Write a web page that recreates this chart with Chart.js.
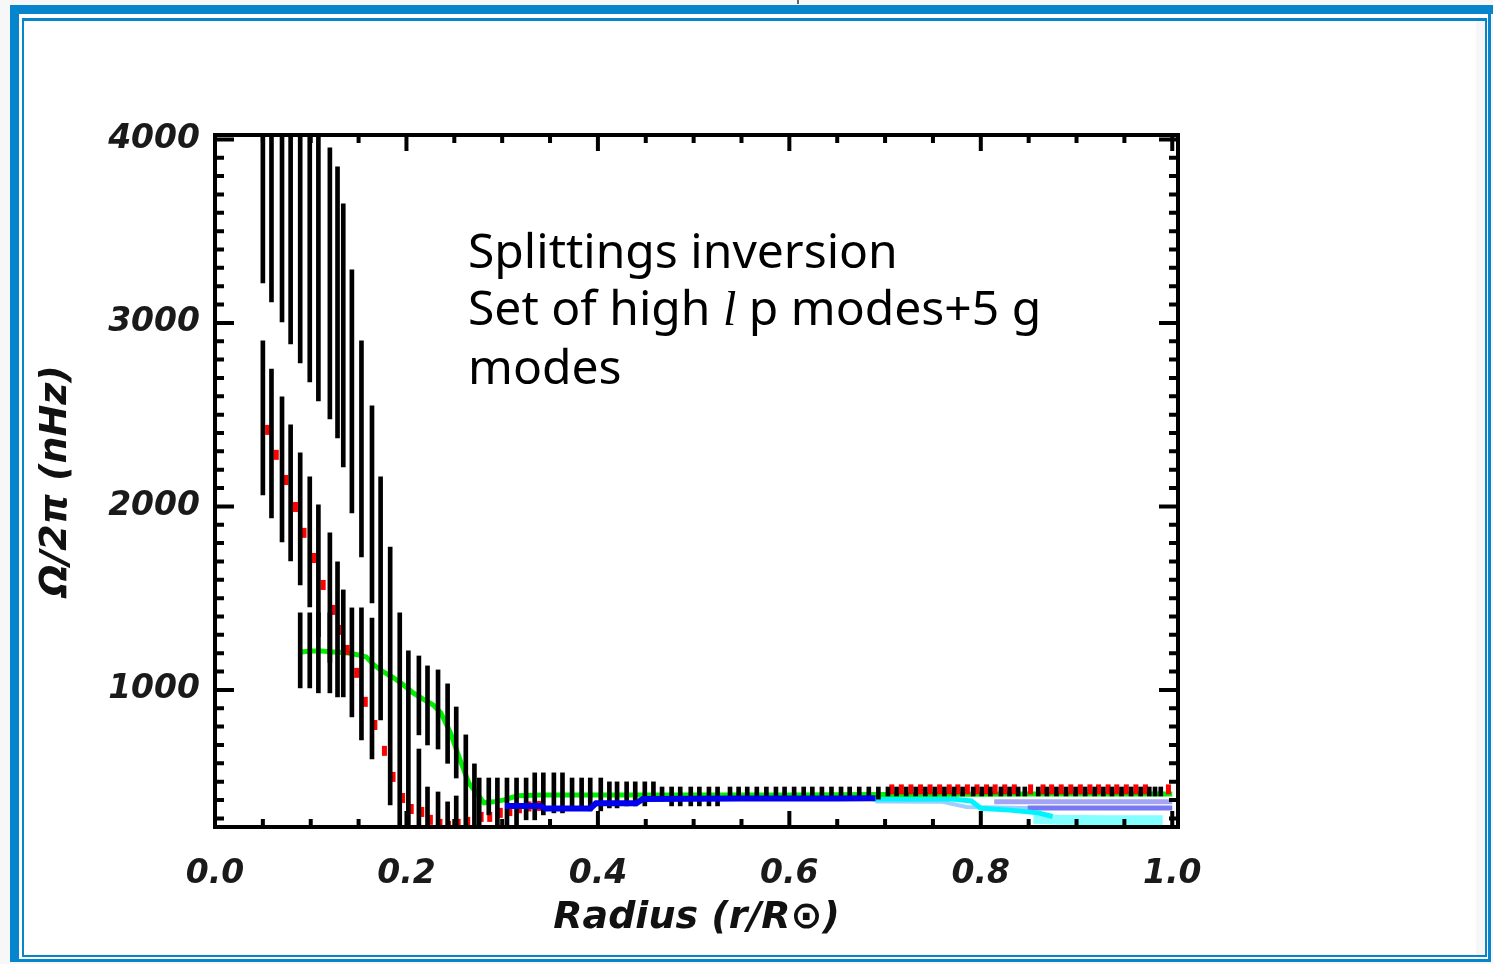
<!DOCTYPE html>
<html>
<head>
<meta charset="utf-8">
<title>Splittings inversion</title>
<script src="https://cdn.jsdelivr.net/npm/chart.js@4.4.1/dist/chart.umd.min.js"></script>
<style>
  body { margin: 0; width: 1493px; height: 964px; overflow: hidden; background: #f7f7f7; position: relative; }
  .blue { position: absolute; background: #0785cc; }
  #panel { position: absolute; left: 19px; top: 14px; width: 1469px; height: 945px; background: #fff; }
  #inner { position: absolute; left: 22px; top: 18px; width: 1465px; height: 939px; box-sizing: border-box;
           border: 2px solid #0785cc; border-top-width: 3px; }
  #strip { position: absolute; left: 1476px; top: 21px; width: 9px; height: 934px; background: #f7f7f7; }
  #mark { position: absolute; left: 797px; top: 0; width: 2px; height: 4px; background: #666; }
  #chart { position: absolute; left: 0; top: 0; }
  #note { position: absolute; left: 468px; top: 221px; font-family: "Noto Sans", sans-serif; font-size: 48px;
          line-height: 57px; color: #000; white-space: nowrap; }
  #note i { font-family: "Liberation Serif", serif; }
</style>
</head>
<body>
<div id="panel"></div>
<div class="blue" style="left:10px; top:5px; width:1483px; height:9px;"></div>
<div class="blue" style="left:10px; top:5px; width:9px; height:957px;"></div>
<div class="blue" style="left:1488px; top:14px; width:3px; height:948px;"></div>
<div class="blue" style="left:10px; top:959px; width:1481px; height:3px;"></div>
<div id="inner"></div>
<div id="strip"></div>
<div id="mark"></div>
<canvas id="chart" width="1493" height="964"></canvas>
<div id="note">Splittings inversion<br>Set of high <i>l</i> p modes+5 g<br>modes</div>
<script>
// axis ticks
const xTickValues = [0, 0.2, 0.4, 0.6, 0.8, 1.0];
const xTickLabels = ['0.0', '0.2', '0.4', '0.6', '0.8', '1.0'];
const yTickValues = [1000, 2000, 3000, 4000];
const yTickLabels = ['1000', '2000', '3000', '4000'];

// upper set of error bars (centre not marked)
const upperX  = [0.050, 0.059, 0.070, 0.079, 0.089, 0.099, 0.108, 0.120, 0.128, 0.134, 0.143, 0.153, 0.164, 0.173, 0.183, 0.193, 0.202];
const upperLo = [3218, 3114, 3005, 2886, 2782, 2678, 2575, 2477, 2373, 2215, 1965, 1725, 1474, 837, 373, 253, 253];
const upperHi = [4100, 4100, 4100, 4100, 4100, 4100, 4100, 3954, 3850, 3649, 3289, 2902, 2548, 2161, 1779, 1420, 1213];

// error bars of the red solution
const redBarX  = [0.050, 0.059, 0.070, 0.079, 0.089, 0.099, 0.108, 0.120, 0.128, 0.134, 0.143, 0.153, 0.164, 0.213, 0.222, 0.233, 0.243, 0.252];
const redBarLo = [2063, 1937, 1807, 1703, 1572, 1452, 1290, 1150, 962, 962, 853, 728, 624, 253, 253, 253, 253, 253];
const redBarHi = [2902, 2749, 2597, 2444, 2292, 2161, 2008, 1856, 1698, 1545, 1447, 1447, 1392, 678, 471, 444, 390, 422];

// error bars of the green solution
const greenBarX  = [0.089, 0.099, 0.108, 0.120, 0.213, 0.222, 0.233, 0.243, 0.252, 0.262, 0.271];
const greenBarLo = [1011, 1011, 984, 984, 755, 700, 678, 600, 520, 264, 253];
const greenBarHi = [1420, 1420, 1420, 1420, 1185, 1131, 1109, 1033, 907, 755, 597];

// error bars in the outer region
const outerX = [0.276, 0.286, 0.295, 0.305, 0.315, 0.325, 0.334, 0.343, 0.354, 0.363,
                0.373, 0.383, 0.392, 0.403, 0.412, 0.420, 0.430, 0.439, 0.449, 0.458,
                0.467, 0.477, 0.486, 0.497, 0.506, 0.516, 0.525, 0.538, 0.547, 0.556,
                0.566, 0.576, 0.586, 0.595, 0.605, 0.615, 0.624, 0.634, 0.644, 0.654,
                0.663, 0.673, 0.683, 0.693, 0.703, 0.712, 0.722, 0.732, 0.742, 0.752,
                0.762, 0.772, 0.781, 0.792, 0.801, 0.810, 0.821, 0.830, 0.839, 0.846,
                0.860, 0.869, 0.879, 0.889, 0.899, 0.909, 0.919, 0.928, 0.937, 0.947,
                0.957, 0.967, 0.976, 0.982, 0.988];
const outerLo = [253, 319, 253, 253, 253, 292, 292, 319, 330, 330,
                 346, 346, 341, 341, 357, 357, 368, 368, 368, 395,
                 395, 368, 368, 368, 368, 368, 368, 405, 405, 405,
                 405, 405, 405, 405, 405, 405, 405, 405, 405, 405,
                 405, 405, 405, 405, 422, 422, 422, 422, 422, 422,
                 422, 422, 422, 422, 422, 422, 422, 422, 422, 422,
                 422, 422, 422, 422, 422, 422, 422, 422, 422, 422,
                 422, 422, 422, 422, 422];
const outerHi = [520, 520, 520, 520, 520, 520, 548, 548, 548, 548,
                 520, 520, 520, 520, 499, 499, 499, 499, 499, 499,
                 471, 471, 471, 471, 471, 471, 471, 471, 471, 471,
                 471, 471, 471, 471, 471, 471, 471, 471, 471, 471,
                 471, 471, 471, 471, 471, 471, 471, 471, 471, 471,
                 471, 471, 471, 471, 471, 471, 471, 471, 471, 471,
                 471, 471, 471, 471, 471, 471, 471, 471, 471, 471,
                 471, 471, 471, 471, 471];

// red solution (points)
const redX = [0.055, 0.064, 0.074, 0.084, 0.093, 0.103, 0.113, 0.123, 0.131, 0.138,
              0.148, 0.157, 0.167, 0.177, 0.186, 0.196, 0.205, 0.216, 0.225, 0.235,
              0.244, 0.254, 0.264, 0.278, 0.287, 0.298, 0.308, 0.318, 0.328, 0.338,
              0.707, 0.717, 0.727, 0.737, 0.747, 0.757, 0.767, 0.776, 0.786, 0.796,
              0.806, 0.815, 0.825, 0.835, 0.852, 0.865, 0.874, 0.884, 0.894, 0.904,
              0.914, 0.923, 0.933, 0.942, 0.952, 0.962, 0.972, 0.996];
const redY = [2417, 2281, 2144, 1997, 1856, 1719, 1572, 1436, 1327, 1218,
              1093, 935, 809, 668, 526, 411, 351, 335, 292, 270,
              259, 270, 281, 308, 308, 330, 340, 355, 365, 368,
              458, 458, 458, 458, 458, 458, 458, 458, 458, 458,
              458, 458, 458, 458, 458, 458, 458, 458, 458, 458,
              458, 458, 458, 458, 458, 458, 458, 458];

// green solution
const greenX = [0.090, 0.100, 0.111, 0.124, 0.139, 0.150, 0.158, 0.166, 0.176, 0.187,
                0.197, 0.207, 0.217, 0.228, 0.236, 0.246, 0.256, 0.265, 0.281, 0.291,
                0.302, 0.316, 0.340, 0.450, 0.600, 0.700, 0.850, 1.000];
const greenY = [1207, 1212, 1212, 1207, 1201, 1190, 1180, 1136, 1098, 1065,
                1027, 984, 951, 918, 875, 766, 619, 494, 385, 390,
                401, 423, 428, 428, 428, 430, 433, 433];

// blue solution
const blueX = [0.303, 0.340, 0.345, 0.392, 0.398, 0.440, 0.447, 0.550, 0.650, 0.690];
const blueY = [368, 368, 354, 354, 382, 382, 406, 408, 408, 410];

// cyan / violet solutions near the surface
const cyanX = [0.687, 0.770, 0.790, 0.800, 0.830, 0.860, 0.875];
const cyanY = [406, 406, 395, 355, 345, 330, 310];
const paleCyanX = [0.855, 0.880, 0.930, 0.990];
const paleCyanY = [298, 292, 290, 290];
const skyX = [0.690, 0.760, 0.785, 0.850];
const skyY = [392, 390, 362, 357];
const lavenderX = [0.814, 1.000];
const lavenderY = [390, 390];
const violetX = [0.849, 1.000];
const violetY = [357, 357];

function bars(xs, lo, hi) {
  return xs.map((x, i) => ({ x: x, y: [lo[i], hi[i]] }));
}
function pts(xs, ys) {
  return xs.map((x, i) => ({ x: x, y: ys[i] }));
}
function barSet(data) {
  return { type: 'bar', data: data, backgroundColor: '#000', borderWidth: 0,
           barThickness: 4, grouped: false, order: 0 };
}
function lineSet(data, color, width, order) {
  return { type: 'line', data: data, borderColor: color, borderWidth: width,
           pointRadius: 0, tension: 0, fill: false, order: order };
}

// frame with inward ticks on all four sides
const frameTicks = {
  id: 'frameTicks',
  afterDatasetsDraw(chart) {
    const { ctx, chartArea: a, scales: { x, y } } = chart;
    ctx.save();
    ctx.strokeStyle = '#000';
    ctx.lineWidth = 4;
    ctx.beginPath();
    for (let i = 0; i <= 20; i++) {
      const px = x.getPixelForValue(i * 0.05);
      const len = i % 4 === 0 ? 16 : 8;
      ctx.moveTo(px, a.bottom); ctx.lineTo(px, a.bottom - len);
      ctx.moveTo(px, a.top); ctx.lineTo(px, a.top + len);
    }
    for (let v = 300; v <= 4000; v += 100) {
      const py = y.getPixelForValue(v);
      const len = v % 1000 === 0 ? 19 : 9;
      ctx.moveTo(a.left, py); ctx.lineTo(a.left + len, py);
      ctx.moveTo(a.right, py); ctx.lineTo(a.right - len, py);
    }
    ctx.stroke();
    ctx.strokeRect(a.left, a.top, a.right - a.left, a.bottom - a.top);
    ctx.restore();
  }
};

const tickFont = { family: '"DejaVu Sans", sans-serif', size: 33, style: 'italic', weight: 'bold' };
const titleFont = { family: '"DejaVu Sans", sans-serif', size: 38, style: 'italic', weight: 'bold' };

new Chart(document.getElementById('chart').getContext('2d'), {
  type: 'bar',
  data: {
    datasets: [
      lineSet(pts(blueX, blueY), '#0000ee', 6, -1),
      barSet(bars(upperX, upperLo, upperHi)),
      barSet(bars(redBarX, redBarLo, redBarHi)),
      barSet(bars(greenBarX, greenBarLo, greenBarHi)),
      barSet(bars(outerX, outerLo, outerHi)),
      { type: 'line', data: pts(redX, redY), showLine: false, pointStyle: 'line', pointRotation: 90,
        pointRadius: 5, pointBorderWidth: 5, pointBorderColor: '#ff0000', pointBackgroundColor: '#ff0000',
        borderColor: '#ff0000', order: 1 },
      lineSet(pts(greenX, greenY), '#00f000', 5, 2),
      lineSet(pts(paleCyanX, paleCyanY), '#84ffff', 10, 4),
      lineSet(pts(skyX, skyY), '#9ccfff', 4, 4),
      lineSet(pts(cyanX, cyanY), '#00f4ff', 5, 3),
      lineSet(pts(lavenderX, lavenderY), '#a4a4f4', 5, 3),
      lineSet(pts(violetX, violetY), '#7878f0', 5, 3)
    ]
  },
  options: {
    responsive: false,
    animation: false,
    devicePixelRatio: 1,
    layout: { padding: 0 },
    plugins: { legend: { display: false }, tooltip: { enabled: false } },
    scales: {
      x: {
        type: 'linear', position: 'bottom', min: 0, max: 1.006, offset: false,
        grid: { display: false, drawTicks: false }, border: { display: false },
        afterBuildTicks: s => { s.ticks = xTickValues.map(v => ({ value: v })); },
        ticks: { autoSkip: false, maxRotation: 0, padding: 28, color: '#1a1a1a', font: tickFont,
                 callback: (v, i) => xTickLabels[i] },
        title: { display: true, text: 'Radius (r/R\u2299)', color: '#111', font: titleFont,
                 padding: { top: 0, bottom: 23 } },
        afterFit: s => { s.height = 137; }
      },
      xTop: {
        type: 'linear', position: 'top', min: 0, max: 1.006, display: true,
        grid: { display: false }, border: { display: false }, ticks: { display: false },
        afterFit: s => { s.height = 135; }
      },
      y: {
        type: 'linear', position: 'left', min: 253, max: 4024,
        grid: { display: false, drawTicks: false }, border: { display: false },
        afterBuildTicks: s => { s.ticks = yTickValues.map(v => ({ value: v })); },
        ticks: { autoSkip: false, padding: 15, color: '#1a1a1a', font: tickFont,
                 callback: (v, i) => yTickLabels[i] },
        title: { display: true, text: '\u03A9/2\u03C0 (nHz)', color: '#111', font: titleFont,
                 padding: { top: 33, bottom: 0 } },
        afterFit: s => { s.width = 215; }
      },
      yRight: {
        type: 'linear', position: 'right', min: 253, max: 4024, display: true,
        grid: { display: false }, border: { display: false }, ticks: { display: false },
        afterFit: s => { s.width = 315; }
      }
    }
  },
  plugins: [frameTicks]
});
</script>
</body>
</html>
